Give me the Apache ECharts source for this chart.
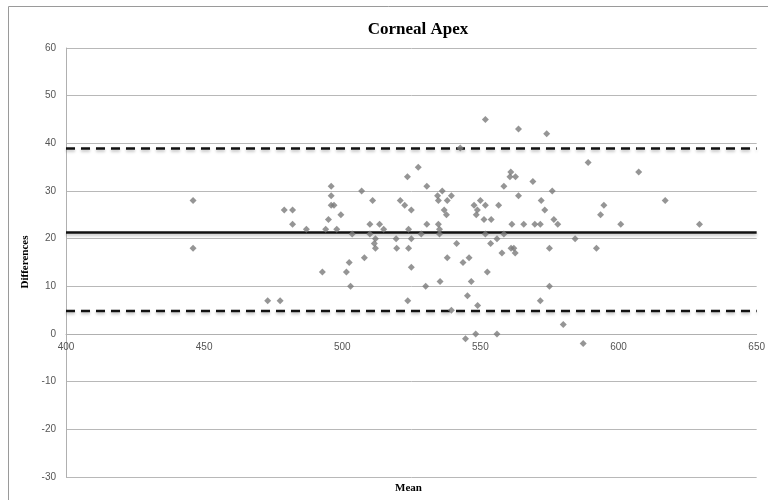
<!DOCTYPE html>
<html><head><meta charset="utf-8">
<script src="https://cdn.jsdelivr.net/npm/echarts@6/dist/echarts.min.js"></script>
<style>html,body{margin:0;padding:0;background:#fff}#c{width:768px;height:500px}</style>
</head><body><div id="c"></div>
<script>
// Bland-Altman points: [mean, difference]
const points = [
[446,28],[446,18],[473,7],[477.5,7],[479,26],[482,26],[482,23],[487,22],
[492.8,13],[494,22],[495,24],[496,31],[496,29],[496,27],[497,27],[498,22],[499.5,25],
[501.5,13],[502.5,15],[503,10],[503.6,21],[507,30],[508,16],[510,23],[510,21],[511,28],[511.6,19],[512,18],[512,20],[513.5,23],[515,22],
[519.5,20],[519.7,18],[521,28],[522.6,27],[523.6,33],[523.7,7],[524,22],[524,18],[525,26],[525,20],[525,14],[527.5,35],[528.6,21],
[530.6,31],[530.6,23],[530.2,10],[534.5,29],[534.8,28],[534.8,23],[535.2,22],[535.2,21],[535.4,11],[536.2,30],[536.9,26],[537.7,25],[538,28],[538,16],[539.5,29],[539.5,5],
[541.4,19],[542.7,39],[543.7,15],[544.6,-1],[545.3,8],[545.9,16],[546.7,11],[547.7,27],[548.3,0],[548.5,25],[548.9,26],[549,6],[550,28],[551.3,24],[551.8,27],[551.8,21],[551.8,45],[552.5,13],[553.7,19],[553.9,24],[556,20],[556,0],[556.6,27],[557.8,17],[558.5,31],[558.5,21],
[560.7,33],[561,34],[561.1,18],[561.4,23],[562.1,18],[562.6,17],[562.7,33],[563.8,43],[563.8,29],[565.7,23],[569,32],[569.7,23],[571.7,23],[571.7,7],[572,28],[573.3,26],[574,42],[575,18],[575,10],[576,30],[576.6,24],[578,23],[580,2],[584.3,20],[587.2,-2],[589,36],[592,18],[593.5,25],[594.7,27],[600.8,23],[607.3,34],[616.9,28],[629.3,23]
];
const meanDiff = 21.3;
const upperLoA = 38.9;
const lowerLoA = 4.8;
const xRange = [400, 650];
const yRange = [-30, 60];

const gridTop = 48, gridBottom = 23, chartH = 500;
const plotH = chartH - gridTop - gridBottom;
// shift the x axis up so it sits on y = 0, as in the reference
const zeroOffset = -plotH * (0 - yRange[0]) / (yRange[1] - yRange[0]);

const chart = echarts.init(document.getElementById('c'), null, {renderer: 'canvas'});
const refLine = (v, type) => ({
  type: 'line', data: [[xRange[0], v], [xRange[1], v]], symbol: 'none', silent: true,
  lineStyle: {color: '#111', width: 2.5, type: type === 'dashed' ? [9, 6] : 'solid',
    shadowColor: 'rgba(0,0,0,0.25)', shadowBlur: 3, shadowOffsetY: 2},
  z: 3
});
chart.setOption({
  animation: false,
  backgroundColor: '#fff',
  title: {
    text: 'Corneal Apex', left: 413, top: 16, textAlign: 'center',
    textStyle: {fontFamily: 'Liberation Serif', fontWeight: 'bold', fontSize: 17, color: '#000'}
  },
  graphic: [
    {type: 'rect', shape: {x: 8.5, y: 6.5, width: 800, height: 520}, style: {fill: 'none', stroke: '#9a9a9a', lineWidth: 1}, silent: true},
    {type: 'text', left: 395, top: 483, style: {text: 'Mean', font: 'bold 11px "Liberation Serif"', fill: '#000'}},
    {type: 'text', x: 25, y: 262, rotation: Math.PI / 2, style: {text: 'Differences', font: 'bold 11px "Liberation Serif"', fill: '#000', align: 'center', verticalAlign: 'middle'}}
  ],
  grid: {left: 66, right: 8, top: gridTop, bottom: gridBottom, containLabel: false},
  xAxis: {
    type: 'value', min: xRange[0], max: xRange[1], interval: 50,
    offset: zeroOffset,
    axisLine: {onZero: false, lineStyle: {color: '#b0b0b0', width: 1}},
    axisTick: {show: false},
    axisLabel: {margin: 8, fontFamily: 'Liberation Sans', fontSize: 10, color: '#555'},
    splitLine: {show: false}
  },
  yAxis: {
    type: 'value', min: yRange[0], max: yRange[1], interval: 10,
    axisLine: {show: true, lineStyle: {color: '#b0b0b0', width: 1}},
    axisTick: {show: false},
    axisLabel: {margin: 10, fontFamily: 'Liberation Sans', fontSize: 10, color: '#555'},
    splitLine: {show: true, lineStyle: {color: '#b8b8b8', width: 1}}
  },
  series: [
    {type: 'scatter', data: points, symbol: 'diamond', symbolSize: 7,
     itemStyle: {color: '#7a7a7a'}, z: 4},
    refLine(meanDiff, 'solid'),
    refLine(upperLoA, 'dashed'),
    refLine(lowerLoA, 'dashed')
  ]
});
</script></body></html>
